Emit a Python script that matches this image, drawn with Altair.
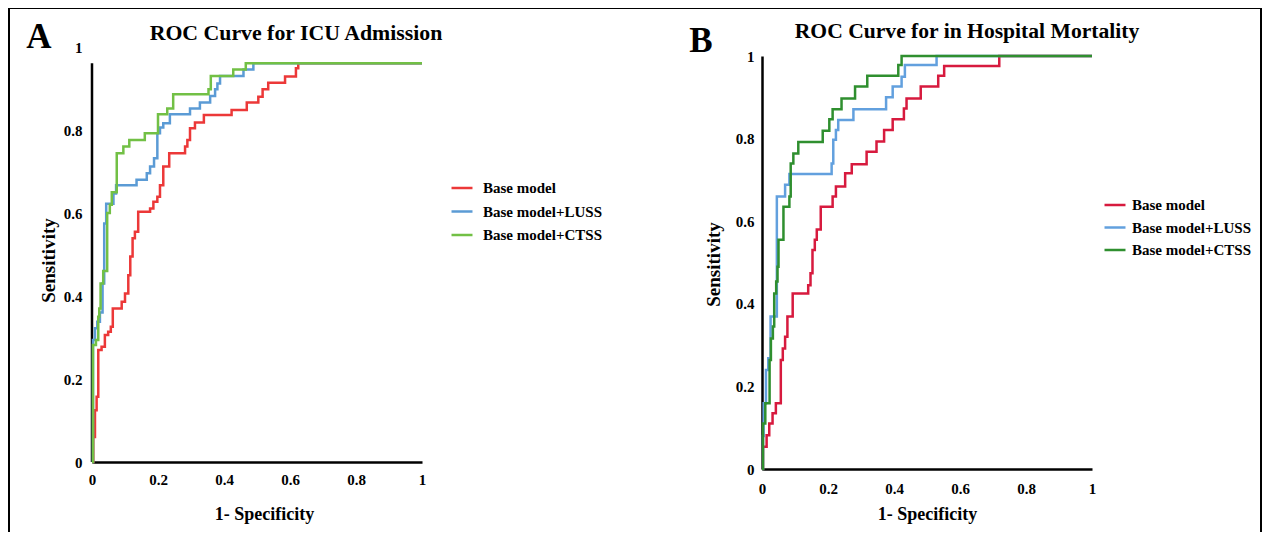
import altair as alt
import pandas as pd

MODELS = ["Base model", "Base model+LUSS", "Base model+CTSS"]
TICKS = [0, 0.2, 0.4, 0.6, 0.8, 1]

# ---- Panel A: ICU admission (points = top of each vertical step) ----
a_base_fpr = [0, 0.004, 0.009, 0.014, 0.019, 0.029, 0.039, 0.049, 0.057, 0.063, 0.09, 0.10, 0.11,
              0.116, 0.123, 0.13, 0.14, 0.176, 0.186, 0.198, 0.206, 0.216, 0.234, 0.282, 0.289,
              0.297, 0.312, 0.339, 0.423, 0.469, 0.504, 0.517, 0.534, 0.585, 0.618, 0.625, 1.0]
a_base_tpr = [0, 0.06, 0.125, 0.157, 0.27, 0.278, 0.306, 0.314, 0.326, 0.37, 0.386, 0.406, 0.45,
              0.495, 0.539, 0.555, 0.603, 0.611, 0.627, 0.639, 0.667, 0.712, 0.744, 0.76, 0.776,
              0.804, 0.818, 0.836, 0.848, 0.866, 0.88, 0.898, 0.914, 0.929, 0.949, 0.961, 0.961]

a_luss_fpr = [0, 0.003, 0.009, 0.016, 0.024, 0.032, 0.037, 0.043, 0.065, 0.073, 0.135, 0.166,
              0.176, 0.188, 0.198, 0.206, 0.216, 0.236, 0.297, 0.327, 0.358, 0.373, 0.38, 0.388,
              0.459, 0.489, 1.0]
a_luss_tpr = [0, 0.294, 0.322, 0.338, 0.36, 0.43, 0.575, 0.622, 0.647, 0.667, 0.68, 0.696,
              0.712, 0.732, 0.792, 0.806, 0.816, 0.838, 0.852, 0.866, 0.882, 0.898, 0.912, 0.93,
              0.946, 0.961, 0.961]

a_ctss_fpr = [0, 0.003, 0.012, 0.019, 0.022, 0.026, 0.034, 0.046, 0.054, 0.06, 0.075, 0.095,
              0.113, 0.16, 0.20, 0.228, 0.246, 0.353, 0.36, 0.428, 0.466, 1.0]
a_ctss_tpr = [0, 0.282, 0.294, 0.35, 0.37, 0.43, 0.46, 0.60, 0.62, 0.65, 0.744, 0.76,
              0.776, 0.792, 0.838, 0.852, 0.886, 0.898, 0.93, 0.946, 0.961, 0.961]

# ---- Panel B: in-hospital mortality ----
b_base_fpr = [0, 0.003, 0.014, 0.022, 0.032, 0.042, 0.057, 0.063, 0.07, 0.077, 0.093, 0.14,
              0.147, 0.153, 0.16, 0.166, 0.178, 0.214, 0.224, 0.252, 0.272, 0.317, 0.347, 0.37,
              0.396, 0.43, 0.438, 0.481, 0.534, 0.552, 0.719, 1.0]
b_base_tpr = [0, 0.054, 0.082, 0.11, 0.135, 0.159, 0.264, 0.292, 0.32, 0.369, 0.425, 0.445,
              0.474, 0.53, 0.555, 0.58, 0.635, 0.66, 0.684, 0.716, 0.738, 0.768, 0.793, 0.821,
              0.847, 0.873, 0.897, 0.926, 0.952, 0.976, 1.0, 1.0]

b_luss_fpr = [0, 0.003, 0.005, 0.012, 0.019, 0.026, 0.045, 0.07, 0.083, 0.211, 0.216, 0.224,
              0.231, 0.277, 0.376, 0.396, 0.423, 0.433, 0.529, 1.0]
b_luss_tpr = [0, 0.08, 0.159, 0.24, 0.268, 0.369, 0.66, 0.688, 0.714, 0.74, 0.797, 0.821,
              0.845, 0.871, 0.90, 0.926, 0.95, 0.978, 1.0, 1.0]

b_ctss_fpr = [0, 0.003, 0.01, 0.023, 0.027, 0.033, 0.037, 0.043, 0.047, 0.05, 0.065, 0.083,
              0.087, 0.095, 0.11, 0.184, 0.204, 0.214, 0.241, 0.282, 0.319, 0.413, 0.423, 1.0]
b_ctss_tpr = [0, 0.11, 0.159, 0.264, 0.316, 0.345, 0.425, 0.454, 0.49, 0.555, 0.635, 0.66,
              0.74, 0.764, 0.792, 0.819, 0.847, 0.871, 0.897, 0.926, 0.952, 0.978, 1.0, 1.0]

A_COLORS = ["#ec3838", "#5b9bd5", "#72c045"]
B_COLORS = ["#d71a3e", "#62a0de", "#2f8f2f"]

FONT = "Liberation Serif"
W, H = 1254, 524


def make_df(series):
    rows = []
    for name, (f, t) in zip(MODELS, series):
        for i, (x, y) in enumerate(zip(f, t)):
            rows.append({"model": name, "fpr": x, "tpr": y, "idx": i})
    return pd.DataFrame(rows)


def panel(df, colors, xr, yr, xoff, yoff, xlpad, ylpad, xtitle_x, xtitle_y,
          ytitle_x, ytitle_y, leg_x, leg_y, leg_off, leg_row, ydomain, ytop):
    xs = alt.Scale(domain=[0, 1], range=xr, nice=False, zero=False)
    ys = alt.Scale(domain=[0, 1], range=yr, nice=False, zero=False)
    cs = alt.Scale(domain=MODELS, range=colors)
    xaxis = alt.Axis(orient="bottom", offset=xoff, values=TICKS, format="~g", ticks=False,
                     grid=False, domain=True, domainColor="black", domainWidth=2.5,
                     labelFont=FONT, labelFontWeight="bold", labelFontSize=15,
                     labelColor="black", labelPadding=xlpad, labelFlush=False,
                     labelOverlap=False, title="1- Specificity", titleFont=FONT,
                     titleFontWeight="bold", titleFontSize=18, titleColor="black",
                     titleX=xtitle_x, titleY=xtitle_y, titleBaseline="middle")
    yaxis = alt.Axis(orient="left", offset=yoff, values=TICKS, format="~g", ticks=False,
                     grid=False, domain=ydomain, domainColor="black", domainWidth=2.5,
                     labelFont=FONT, labelFontWeight="bold", labelFontSize=15,
                     labelColor="black", labelPadding=ylpad, labelFlush=False,
                     labelOverlap=False, title="Sensitivity", titleFont=FONT,
                     titleFontWeight="bold", titleFontSize=19, titleColor="black",
                     titleX=ytitle_x, titleY=ytitle_y, titleBaseline="middle",
                     titleAlign="center")
    leg = alt.Legend(orient="none", legendX=leg_x, legendY=leg_y, title=None,
                     symbolType="stroke", symbolSize=440, symbolStrokeWidth=2.5,
                     labelFont=FONT, labelFontWeight="bold", labelFontSize=15,
                     labelColor="black", labelOffset=leg_off, rowPadding=leg_row, padding=0)
    layers = []
    if not ydomain:
        layers.append(
            alt.Chart(pd.DataFrame({"a": [0]})).mark_rule(color="black", strokeWidth=2.5)
            .encode(x=alt.datum(0, scale=xs), y=alt.datum(0, scale=ys), y2=alt.datum(ytop))
        )
    for m in MODELS:
        layers.append(
            alt.Chart(df).transform_filter(alt.datum.model == m)
            .mark_line(interpolate="step-after", strokeWidth=2.5)
            .encode(
                x=alt.X("fpr:Q", scale=xs, axis=xaxis),
                y=alt.Y("tpr:Q", scale=ys, axis=yaxis),
                color=alt.Color("model:N", scale=cs, legend=leg),
                order="idx:Q",
            )
        )
    return alt.layer(*layers)


def text(txt, x, y, size, align="center"):
    return alt.Chart(pd.DataFrame({"t": [txt]})).mark_text(
        font=FONT, fontWeight="bold", fontSize=size, color="black",
        align=align, baseline="alphabetic"
    ).encode(x=alt.value(x), y=alt.value(y), text="t:N")


dfA = make_df([(a_base_fpr, a_base_tpr), (a_luss_fpr, a_luss_tpr), (a_ctss_fpr, a_ctss_tpr)])
dfB = make_df([(b_base_fpr, b_base_tpr), (b_luss_fpr, b_luss_tpr), (b_ctss_fpr, b_ctss_tpr)])

pA = panel(dfA, A_COLORS, [84, 414], [454, 39], 454 - H, -84, 10, 10, 256, 52, -44, 252,
           442, 168, 9, 3.5, False, 0.961)
pB = panel(dfB, B_COLORS, [754, 1084], [461, 48], 461 - H, -754, 12, 8, 919, 45, -49, 256,
           1095, 185, 5, 2.5, True, 1.0)

border = alt.Chart(pd.DataFrame({"a": [0]})).mark_rect(
    fill="transparent", stroke="black", strokeWidth=2
).encode(x=alt.value(1), x2=alt.value(1253), y=alt.value(0), y2=alt.value(540))

chart = alt.layer(
    border,
    pA,
    pB,
    text("A", 31, 40, 35),
    text("B", 693, 44, 35),
    text("ROC Curve for ICU Admission", 288, 32, 21.8),
    text("ROC Curve for in Hospital Mortality", 959, 30, 21.6),
).resolve_scale(x="independent", y="independent", color="independent").properties(
    width=W, height=H, autosize=alt.AutoSizeParams(type="none"), padding=0,
    background="white"
).configure_view(strokeWidth=0)

chart.save("out.html", embed_options={"renderer": "svg", "actions": False})
